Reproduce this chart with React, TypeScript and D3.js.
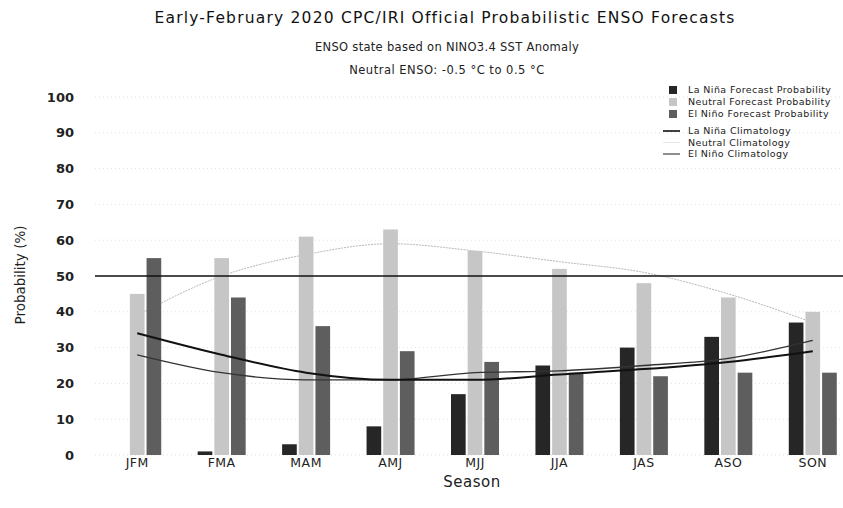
import * as d3 from "d3";

const width = 843;
const height = 508;

const seasons = ["JFM", "FMA", "MAM", "AMJ", "MJJ", "JJA", "JAS", "ASO", "SON"];
const series = ["La Niña", "Neutral", "El Niño"];

// forecast probabilities (%)
const laNinaProb = [0, 1, 3, 8, 17, 25, 30, 33, 37];
const neutralProb = [45, 55, 61, 63, 57, 52, 48, 44, 40];
const elNinoProb = [55, 44, 36, 29, 26, 23, 22, 23, 23];

// climatology (%)
const laNinaClim = [34, 28, 23, 21, 21, 22.5, 24, 26, 29];
const neutralClim = [39, 50, 56, 59, 57, 54, 51, 45, 37];
const elNinoClim = [28, 23, 21, 21, 23, 23.5, 25, 27, 32];

const yTicks = [0, 10, 20, 30, 40, 50, 60, 70, 80, 90, 100];

const barColors = ["#262626", "#c6c6c6", "#5e5e5e"];
const legendBars = ["La Niña Forecast Probability", "Neutral Forecast Probability", "El Niño Forecast Probability"];
const legendLines = ["La Niña Climatology", "Neutral Climatology", "El Niño Climatology"];

const font = "'DejaVu Sans', sans-serif";

const App = () => {
  const x = d3.scaleBand().domain(seasons).range([95, 855]).padding(0);
  const inner = d3.scaleBand().domain(series).range([-24, 24]).paddingInner(0.12);
  const y = d3.scaleLinear().domain([0, 100]).range([455, 97]);

  const probs = [laNinaProb, neutralProb, elNinoProb];
  const cx = (s: string) => (x(s) as number) + x.bandwidth() / 2;

  const line = d3
    .line<number>()
    .x((_, i) => cx(seasons[i]))
    .y((d) => y(d))
    .curve(d3.curveMonotoneX);

  return (
    <svg
      width={width}
      height={height}
      style={{ position: "absolute", left: 0, top: 0, background: "#fff" }}
      fontFamily={font}
    >
      {/* titles */}
      <text x={445} y={23} textAnchor="middle" fontSize={15.5} letterSpacing={1.2} fill="#111">
        Early-February 2020 CPC/IRI Official Probabilistic ENSO Forecasts
      </text>
      <text x={447} y={51} textAnchor="middle" fontSize={11.5} letterSpacing={0.3} fill="#222">
        ENSO state based on NINO3.4 SST Anomaly
      </text>
      <text x={447} y={74} textAnchor="middle" fontSize={11.5} letterSpacing={0.5} fill="#222">
        Neutral ENSO: -0.5 °C to 0.5 °C
      </text>

      {/* gridlines */}
      <g>
        {yTicks
          .filter((t) => t !== 50)
          .map((t) => (
            <line
              key={t}
              x1={95}
              x2={843}
              y1={y(t)}
              y2={y(t)}
              stroke="#cfcfcf"
              strokeWidth={0.6}
              strokeDasharray="1 3"
            />
          ))}
      </g>

      {/* y axis labels */}
      <g>
        {yTicks.map((t) => (
          <text
            key={t}
            x={74}
            y={y(t)}
            dy="0.35em"
            textAnchor="end"
            fontSize={13}
            fontWeight="bold"
            fill="#222"
          >
            {t}
          </text>
        ))}
      </g>
      <text
        transform={`translate(25,${275}) rotate(-90)`}
        textAnchor="middle"
        fontSize={13.5}
        fill="#222"
      >
        Probability (%)
      </text>

      {/* neutral climatology behind bars */}
      <path d={line(neutralClim) || ""} fill="none" stroke="#b8b8b8" strokeWidth={1} strokeDasharray="2 1" />

      {/* bars */}
      <g>
        {seasons.map((s, i) => (
          <g key={s} transform={`translate(${cx(s)},0)`}>
            {series.map((k, j) => (
              <rect
                key={k}
                x={inner(k)}
                y={y(probs[j][i])}
                width={inner.bandwidth()}
                height={y(0) - y(probs[j][i])}
                fill={barColors[j]}
              />
            ))}
          </g>
        ))}
      </g>

      {/* 50% line */}
      <line x1={95} x2={843} y1={y(50)} y2={y(50)} stroke="#111" strokeWidth={1.6} />

      {/* climatology lines */}
      <path d={line(elNinoClim) || ""} fill="none" stroke="#333" strokeWidth={1.3} />
      <path d={line(laNinaClim) || ""} fill="none" stroke="#111" strokeWidth={2} />

      {/* x axis labels */}
      <g>
        {seasons.map((s) => (
          <text key={s} x={cx(s)} y={467} textAnchor="middle" fontSize={12.5} letterSpacing={0.5} fill="#222">
            {s}
          </text>
        ))}
      </g>
      <text x={472} y={487} textAnchor="middle" fontSize={15} letterSpacing={0.5} fill="#222">
        Season
      </text>

      {/* legend */}
      <g fontSize={9.5} letterSpacing={0.4} fill="#222">
        {legendBars.map((l, i) => (
          <g key={l} transform={`translate(669,${90 + i * 12})`}>
            <rect x={0} y={-4} width={8} height={8} fill={barColors[i]} />
            <text x={19} y={0} dy="0.35em">
              {l}
            </text>
          </g>
        ))}
        {legendLines.map((l, i) => (
          <g key={l} transform={`translate(663,${131 + i * 11.5})`}>
            <line
              x1={0}
              x2={17}
              y1={0}
              y2={0}
              stroke={["#111", "#e6e6e6", "#444"][i]}
              strokeWidth={[1.6, 1, 1.2][i]}
            />
            <text x={25} y={0} dy="0.35em">
              {l}
            </text>
          </g>
        ))}
      </g>
    </svg>
  );
};

export default App;
